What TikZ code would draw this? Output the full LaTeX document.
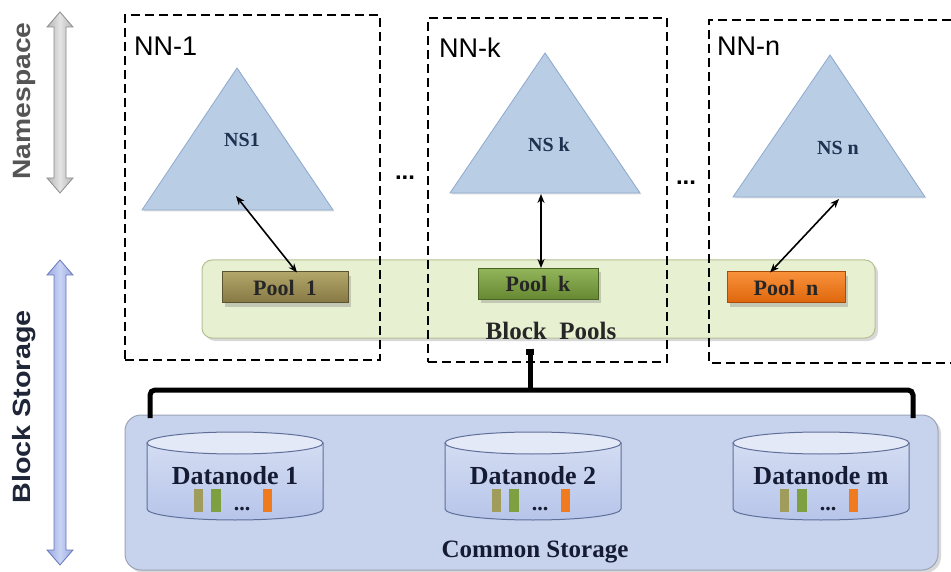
\documentclass[tikz,border=0pt]{standalone}
\usepackage{fontspec}
\setmainfont{Liberation Serif}
\newfontfamily\labelsans{Liberation Sans}
\usetikzlibrary{shadows,arrows.meta,calc}

\definecolor{trifill}{HTML}{B9CDE5}
\definecolor{triedge}{HTML}{8EA9CF}
\definecolor{nstext}{HTML}{1F3050}
\definecolor{poolbg}{HTML}{E8F0D2}
\definecolor{pooledge}{HTML}{B5C095}
\definecolor{oliveT}{HTML}{B3A66A}
\definecolor{oliveB}{HTML}{857843}
\definecolor{oliveE}{HTML}{5C5330}
\definecolor{greenT}{HTML}{92B45A}
\definecolor{greenB}{HTML}{668832}
\definecolor{greenE}{HTML}{4A6424}
\definecolor{orangeT}{HTML}{F8913A}
\definecolor{orangeB}{HTML}{DE660C}
\definecolor{orangeE}{HTML}{A84C08}
\definecolor{csbg}{HTML}{C7D3EC}
\definecolor{csedge}{HTML}{9AA3B8}
\definecolor{cylT}{HTML}{D3DCF2}
\definecolor{cylB}{HTML}{B7C5EA}
\definecolor{cyltop}{HTML}{E3E9F7}
\definecolor{cyledge}{HTML}{5F6F99}
\definecolor{darktext}{HTML}{141B33}
\definecolor{barolive}{HTML}{A09C5C}
\definecolor{bargreen}{HTML}{7FA040}
\definecolor{barorange}{HTML}{F07A1E}
\definecolor{nsarrowL}{HTML}{E4E4E4}
\definecolor{nsarrowD}{HTML}{B4B4B4}
\definecolor{nsarrowE}{HTML}{8C8C8C}
\definecolor{bsarrowL}{HTML}{C9D3F4}
\definecolor{bsarrowD}{HTML}{98A8E0}
\definecolor{bsarrowE}{HTML}{6878B8}
\definecolor{nslabel}{HTML}{555555}
\definecolor{bslabel}{HTML}{1F2638}

\newcommand\datanodecyl[3]{%
  \begin{scope}[shift={(#2,0)}]
    \path[top color=cylT, bottom color=cylB, draw=cyledge, line width=1pt]
      (0,443) -- (0,509) arc[start angle=180, end angle=360, x radius=88pt, y radius=11pt]
      -- (176,443) -- cycle;
    \path[fill=cyltop, draw=cyledge, line width=1pt] (88,443) ellipse[x radius=88pt, y radius=11pt];
    \node[dntext] (#1) at (88,476) {#3};
    \fill[barolive] (47,489) rectangle (56,512);
    \fill[bargreen] (64,489) rectangle (74,512);
    \fill[barorange] (116,489) rectangle (125,512);
    \node[font=\bfseries\fontsize{22}{24}\selectfont, text=darktext, inner sep=0pt, anchor=base] (#1dots) at (95,510) {...};
  \end{scope}}

\begin{document}
\begin{tikzpicture}[x=1pt,y=-1pt,
  nnbox/.style={draw=black, line width=2.8pt, dash pattern=on 9pt off 5pt},
  nnlabel/.style={font=\labelsans\fontsize{27}{32}\selectfont, anchor=west, inner sep=0pt},
  tri/.style={fill=trifill, draw=triedge, line width=0.8pt, line join=miter,
    drop shadow={shadow xshift=1.5pt, shadow yshift=-1.5pt, opacity=0.25}},
  nslab/.style={font=\bfseries\fontsize{20}{24}\selectfont, text=nstext},
  poolnode/.style={minimum height=31pt, inner sep=0pt, line width=1pt,
    font=\bfseries\fontsize{22}{26}\selectfont, text=black!85,
    drop shadow={shadow xshift=3pt, shadow yshift=-4pt, opacity=0.35}},
  conn/.style={{Stealth[length=9pt,width=7pt]}-{Stealth[length=9pt,width=7pt]}, line width=1.6pt, black},
  bigbox/.style={inner sep=0pt, line width=1pt,
    drop shadow={shadow xshift=3pt, shadow yshift=-3pt, opacity=0.3}},
  dntext/.style={font=\bfseries\fontsize{26}{30}\selectfont, text=darktext, inner sep=1pt},
  bracket/.style={line width=5pt, black, rounded corners=5pt},
  sidelabel/.style={rotate=90, font=\labelsans\bfseries\fontsize{25}{30}\selectfont, inner sep=0pt},
  dots/.style={font=\labelsans\bfseries\fontsize{24}{26}\selectfont, inner sep=0pt}
]
\useasboundingbox (0,0) rectangle (951,572);
\fill[white] (0,0) rectangle (951,572);

% ---- side double arrows and their labels ----
\path[left color=nsarrowD, right color=nsarrowD, middle color=nsarrowL, draw=nsarrowE, line width=0.8pt]
  (60,12) -- (73,27) -- (66,27) -- (66,178) -- (73,178) -- (60,193) -- (47,178)
  -- (54,178) -- (54,27) -- (47,27) -- cycle;
\path[left color=bsarrowD, right color=bsarrowD, middle color=bsarrowL, draw=bsarrowE, line width=0.8pt]
  (60,260) -- (73,275) -- (66,275) -- (66,550) -- (73,550) -- (60,565) -- (47,550)
  -- (54,550) -- (54,275) -- (47,275) -- cycle;
\node[sidelabel, text=nslabel] (nsname) at (24,101) {\scalebox{1.13}[1]{Namespace}};
\node[sidelabel, text=bslabel] (bsname) at (24,407) {\scalebox{1.15}[1]{Block Storage}};

% ---- block pools band ----
\node[bigbox, fill=poolbg, draw=pooledge, rounded corners=10pt,
  minimum width=673pt, minimum height=78pt] (bpools) at (538.5,299) {};
\node[font=\bfseries\fontsize{25}{30}\selectfont, text=black!85] (bplabel) at (551,331) {Block\ \ Pools};

% ---- namenode boxes ----
\node[nnbox, minimum width=255pt, minimum height=345pt, inner sep=0pt] (nn1) at (252.5,187.5) {};
\node[nnbox, minimum width=239pt, minimum height=344pt, inner sep=0pt] (nnk) at (547.5,190) {};
\draw[nnbox] (965,20) -- (709,20) -- (709,363) -- (965,363);
\coordinate (nnn) at (709,20);
\node[nnlabel] (nn1lab) at (134,46) {NN-1};
\node[nnlabel] (nnklab) at (439,48) {NN-k};
\node[nnlabel] (nnnlab) at (717,46) {NN-n};
\node[dots] (dots1) at (405,178) {...};
\node[dots] (dots2) at (686,183) {...};

% ---- namespace triangles ----
\path[tri] (237,68) -- (333,210) -- (142,210) -- cycle;
\path[tri] (545,53) -- (640,193) -- (450,193) -- cycle;
\path[tri] (830,55) -- (925,197) -- (733,197) -- cycle;
\node[nslab] (ns1) at (242,140) {NS1};
\node[nslab] (nsk) at (549,145) {NS k};
\node[nslab] (nsn) at (838,148) {NS n};
\coordinate (ns1b) at (236,196);
\coordinate (nskb) at (541,194);
\coordinate (nsnb) at (839,199);

% ---- pools ----
\node[poolnode, top color=oliveT, bottom color=oliveB, draw=oliveE, minimum width=126pt] (pool1) at (285,287.5) {Pool\ \ 1};
\node[poolnode, top color=greenT, bottom color=greenB, draw=greenE, minimum width=120pt] (poolk) at (538,284) {Pool\ \ k};
\node[poolnode, top color=orangeT, bottom color=orangeB, draw=orangeE, minimum width=118pt] (pooln) at (786,287.5) {Pool\ \ n};

\draw[conn] (ns1b) -- ($(pool1.north)+(12,1)$);
\draw[conn] (nskb) -- ($(poolk.north)+(3,0)$);
\draw[conn] (nsnb) -- ($(pooln.north)+(-16,1)$);

% ---- common storage ----
\node[bigbox, fill=csbg, draw=csedge, rounded corners=16pt,
  minimum width=813pt, minimum height=155pt] (cstore) at (531.5,492.5) {};
\node[font=\bfseries\fontsize{25}{30}\selectfont, text=darktext] (cslabel) at (535,552) {Common Storage};

% ---- bracket from the block pools to the common storage ----
\coordinate (brtop) at ($(bpools.south)+(-8.5,10)$);
\coordinate (brleft) at (150,418);
\coordinate (brright) at (913,418);
\draw[bracket] (brleft) -- (150,390) -- (913,390) -- (brright);
\draw[line width=5pt] (brtop) -- (brtop |- 0,391);
\draw[line width=8pt] (brtop) -- ($(brtop)+(0,6)$);

% ---- datanodes ----
\datanodecyl{dn1}{147}{Datanode 1}
\datanodecyl{dn2}{445}{Datanode 2}
\datanodecyl{dnm}{733}{Datanode m}

\end{tikzpicture}
\end{document}
